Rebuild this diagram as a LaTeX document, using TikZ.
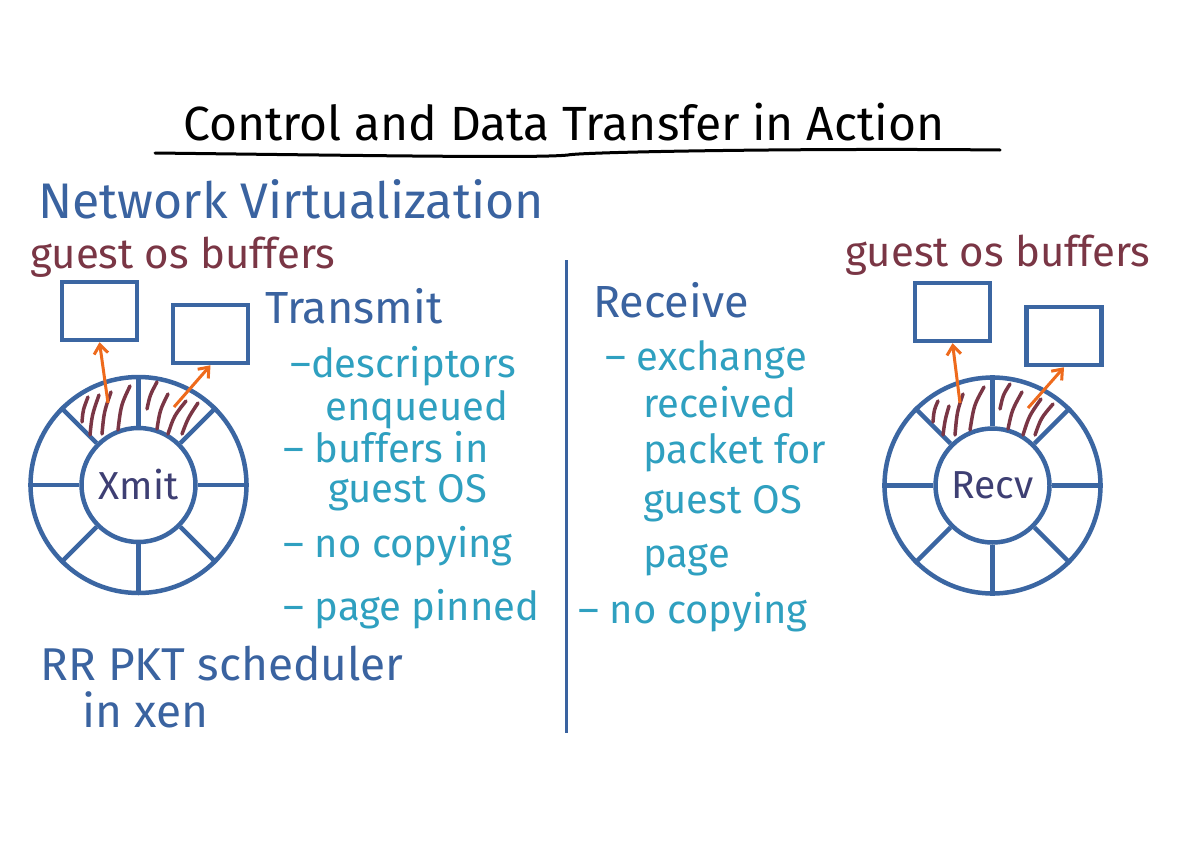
\documentclass[tikz,border=0pt]{standalone}
\usepackage{fontspec}
\setmainfont{Fira Sans}
\usetikzlibrary{arrows.meta}
\definecolor{ringblue}{HTML}{3B66A2}
\definecolor{hdblue}{HTML}{3A63A0}
\definecolor{bufred}{HTML}{7A3645}
\definecolor{tealc}{HTML}{2FA0C0}
\definecolor{arrorange}{HTML}{EE6A1C}
\definecolor{navyc}{HTML}{3E3F73}
\tikzset{
  ringline/.style={draw=ringblue, line width=4.5pt},
  outerring/.style={circle, ringline, minimum size=216pt, inner sep=0pt},
  innerring/.style={circle, ringline, minimum size=114pt, inner sep=0pt, text=navyc, font=\fontsize{39}{39}\selectfont},
  bufbox/.style={draw=ringblue, line width=4.5pt, minimum width=75pt, minimum height=58pt, inner sep=0pt},
  hatch/.style={draw=bufred, line width=3.5pt, line cap=round},
  arr/.style={draw=arrorange, line width=3pt, -{Straight Barb[length=9pt,width=14pt]}},
  titletxt/.style={anchor=base west, inner sep=0pt, text=black, font=\fontsize{48}{48}\selectfont},
  headtxt/.style={anchor=base west, inner sep=0pt, text=hdblue, font=\fontsize{50}{50}\selectfont},
  schedtxt/.style={anchor=base west, inner sep=0pt, text=hdblue, font=\fontsize{46}{46}\selectfont},
  subhead/.style={anchor=base west, inner sep=0pt, text=hdblue, font=\fontsize{45}{45}\selectfont},
  buftxt/.style={anchor=base west, inner sep=0pt, text=bufred, font=\fontsize{42}{42}\selectfont},
  itemtxt/.style={anchor=base west, inner sep=0pt, text=tealc, font=\fontsize{40}{40}\selectfont},
}
\begin{document}
\begin{tikzpicture}[x=1pt,y=-1pt]
\useasboundingbox[fill=white] (0,0) rectangle (1190,859);

% title
\node[titletxt] (title) at (183,140) {Control and Data Transfer in Action};
\coordinate (ul1) at (155,153);
\coordinate (ul2) at (1000,150);
\draw[black, line width=3pt, line cap=round] (ul1) .. controls (400,156) and (540,158) .. (568,155) .. controls (580,152) and (800,148) .. (ul2);

% headings
\node[headtxt] (nv) at (38,218) {Network Virtualization};
\node[buftxt] (gobL) at (30,268) {guest os buffers};
\node[buftxt] (gobR) at (845,266) {guest os buffers};
\node[schedtxt] (rr) at (40,680) {RR PKT scheduler};
\node[schedtxt] (xen) at (82,727) {in xen};

% divider
\coordinate (d1) at (566,260);
\coordinate (d2) at (566,733);
\draw[hdblue, line width=3pt] (d1) -- (d2);

% transmit
\node[subhead] (tx) at (265,323) {Transmit};
\node[itemtxt] (t1) at (290,377) {–descriptors};
\node[itemtxt] (t1b) at (325,420) {enqueued};
\node[itemtxt] (t2) at (283,462) {– buffers in};
\node[itemtxt] (t2b) at (328,502) {guest OS};
\node[itemtxt] (t3) at (283,557) {– no copying};
\node[itemtxt] (t4) at (283,620) {– page pinned};

% receive
\node[subhead] (rx) at (593,317) {Receive};
\node[itemtxt] (r1) at (605,370) {– exchange};
\node[itemtxt] (r1b) at (643,417) {received};
\node[itemtxt] (r1c) at (643,463) {packet for};
\node[itemtxt] (r1d) at (643,513) {guest OS};
\node[itemtxt] (r1e) at (643,567) {page};
\node[itemtxt] (r2) at (578,623) {– no copying};

% left ring
\node[outerring] (xo) at (138.5,485) {};
\node[innerring] (xi) at (138.5,485) {Xmit};
\foreach \a in {0,45,...,315} \draw[ringline] (xi.\a) -- (xo.\a);
\draw[hatch] (82,422) .. controls (83,410) .. (88,397);
\draw[hatch] (90,435) .. controls (92,415) .. (99,395);
\draw[hatch] (102,434) .. controls (104,412) .. (111,392);
\draw[hatch] (118,430) .. controls (121,405) .. (130,386);
\draw[hatch] (147,409) .. controls (150,395) .. (157,382);
\draw[hatch] (157,429) .. controls (160,410) .. (168,394);
\draw[hatch] (168,434) .. controls (174,416) .. (186,401);
\draw[hatch] (182,434) .. controls (188,418) .. (198,403);
\node[bufbox] (xb1) at (99.5,311) {};
\node[bufbox] (xb2) at (210.5,334) {};
\coordinate (xa1) at (108,403);
\coordinate (xa2) at (174,407);
\draw[arr] (xa1) -- (xb1.south);
\draw[arr] (xa2) -- (xb2.south);

% right ring
\node[outerring] (ro) at (992.5,485.5) {};
\node[innerring] (ri) at (992.5,485.5) {Recv};
\foreach \a in {0,45,...,315} \draw[ringline] (ri.\a) -- (ro.\a);
\draw[hatch] (933,422) .. controls (934,410) .. (938,401);
\draw[hatch] (943,435) .. controls (945,420) .. (949,406);
\draw[hatch] (955,435) .. controls (957,412) .. (963,394);
\draw[hatch] (970,430) .. controls (974,405) .. (984,387);
\draw[hatch] (1000,409) .. controls (1003,395) .. (1010,384);
\draw[hatch] (1008,429) .. controls (1012,410) .. (1022,392);
\draw[hatch] (1023,435) .. controls (1029,416) .. (1041,399);
\draw[hatch] (1035,435) .. controls (1041,418) .. (1053,404);
\node[bufbox] (rb1) at (952.5,312) {};
\node[bufbox] (rb2) at (1064,336) {};
\coordinate (ra1) at (960,403);
\coordinate (ra2) at (1028,408);
\draw[arr] (ra1) -- (rb1.south);
\draw[arr] (ra2) -- (rb2.south);
\end{tikzpicture}
\end{document}
